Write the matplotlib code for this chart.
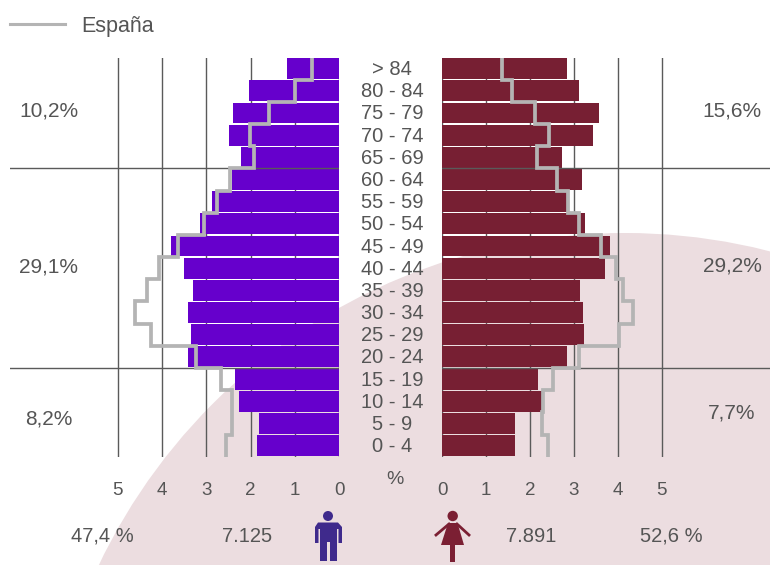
import matplotlib
matplotlib.use('Agg')
from matplotlib import pyplot as plt
from matplotlib.lines import Line2D
from matplotlib.patches import Circle, Polygon, Rectangle

plt.rcParams['font.family'] = ['Liberation Sans', 'DejaVu Sans']

# datos
age_groups = ['> 84', '80 - 84', '75 - 79', '70 - 74', '65 - 69', '60 - 64',
              '55 - 59', '50 - 54', '45 - 49', '40 - 44', '35 - 39', '30 - 34',
              '25 - 29', '20 - 24', '15 - 19', '10 - 14', '5 - 9', '0 - 4']
men = [1.17, 2.04, 2.40, 2.50, 2.23, 2.43, 2.87, 3.14, 3.79,
       3.51, 3.31, 3.41, 3.34, 3.41, 2.35, 2.26, 1.82, 1.85]
women = [2.85, 3.12, 3.58, 3.43, 2.73, 3.19, 2.88, 3.26, 3.82,
         3.71, 3.14, 3.22, 3.24, 2.85, 2.19, 2.27, 1.66, 1.66]
spain_men = [0.62, 1.00, 1.58, 2.02, 1.93, 2.46, 2.76, 3.06, 3.63,
             4.06, 4.33, 4.61, 4.26, 3.23, 2.66, 2.43, 2.43, 2.56]
spain_women = [1.37, 1.60, 2.11, 2.43, 2.17, 2.63, 2.87, 3.11, 3.62,
               3.96, 4.12, 4.34, 4.04, 3.12, 2.52, 2.30, 2.28, 2.42]
pct_ticks = [0, 1, 2, 3, 4, 5]
group_breaks = [5, 14]
left_shares = ['10,2%', '29,1%', '8,2%']
right_shares = ['15,6%', '29,2%', '7,7%']
men_total = ['47,4 %', '7.125']
women_total = ['7.891', '52,6 %']

W, H = 770, 565
TEXT = '#555555'
GRID = '#5a5a5a'
LINE = '#b4b4b4'
MEN = '#6600cc'
WOMEN = '#771f33'
PINK = '#ecdde0'


def pixel_axes(x0, y0, x1, y1, zorder):
    ax = fig.add_axes([x0 / W, 1 - y1 / H, (x1 - x0) / W, (y1 - y0) / H], zorder=zorder)
    ax.patch.set_visible(False)
    return ax


def pyramid(ax, values, spain, color, xlim):
    rows = range(len(values))
    ax.barh([r + 0.5 for r in rows], values, height=0.94, color=color, zorder=2)
    ax.stairs(spain, range(len(spain) + 1), orientation='horizontal', baseline=None,
              color=LINE, lw=2.7, zorder=4)
    for b in group_breaks:
        ax.axhline(b, color=GRID, lw=1, zorder=3)
    ax.set_xlim(*xlim)
    ax.set_ylim(len(values), 0)
    ax.set_xticks(pct_ticks)
    ax.set_yticks([])
    ax.grid(axis='x', color=GRID, lw=1, zorder=1)
    ax.set_axisbelow(True)
    ax.tick_params(axis='x', length=0, pad=18.5, labelsize=13.5, labelcolor=TEXT)
    for s in ax.spines.values():
        s.set_visible(False)


fig = plt.figure(figsize=(W / 100, H / 100), dpi=100, facecolor='white')

# fondo: circulo rosa
bg = pixel_axes(0, 0, W, H, -1)
bg.set_xlim(0, W)
bg.set_ylim(H, 0)
bg.axis('off')
bg.add_patch(Circle((625, 816), 583, color=PINK, lw=0))

ax_men = pixel_axes(10, 57.5, 339.3, 456.7, 1)
pyramid(ax_men, men, spain_men, MEN, (329.3 / 44.3, 0))
ax_women = pixel_axes(442, 57.5, 770, 456.7, 1)
pyramid(ax_women, women, spain_women, WOMEN, (0, 328 / 43.9))

# textos e iconos
top = pixel_axes(0, 0, W, H, 2)
top.set_xlim(0, W)
top.set_ylim(H, 0)
top.axis('off')

for i, label in enumerate(age_groups):
    top.text(392, 58.5 + (i + 0.5) * 399.2 / 18, label, ha='center', va='center',
             fontsize=14.5, color=TEXT)
for label, y in zip(left_shares, [111, 267, 419]):
    top.text(49, y, label, ha='center', va='center', fontsize=15, color=TEXT)
for label, y in zip(right_shares, [111, 266, 413]):
    top.text(732, y, label, ha='center', va='center', fontsize=15, color=TEXT)
top.text(395, 479, '%', ha='center', va='center', fontsize=14, color=TEXT)
for label, x in zip(men_total + women_total, [102, 247, 531, 671]):
    top.text(x, 536, label, ha='center', va='center', fontsize=14.5, color=TEXT)

# hombre
icon_m = '#3f2a8c'
top.add_patch(Circle((328, 516), 5, color=icon_m, lw=0))
top.add_patch(Polygon([(315, 527), (318, 522.5), (338, 522.5), (342, 527), (342, 543), (338.5, 543),
                       (338.5, 529), (337, 529), (337, 561), (330, 561), (330, 542), (327, 542),
                       (327, 561), (320, 561), (320, 529), (318.5, 529), (318.5, 543), (315, 543)],
                      color=icon_m, lw=0))
# mujer
icon_w = '#7b1f33'
top.add_patch(Circle((452.7, 516), 5.2, color=icon_w, lw=0))
top.add_patch(Polygon([(448, 523), (457.5, 523), (464, 545), (441, 545)], color=icon_w, lw=0))
top.add_patch(Rectangle((450.2, 544), 5, 17.5, color=icon_w, lw=0))
top.plot([449, 436], [524, 535], color=icon_w, lw=2)
top.plot([457, 469], [524, 535], color=icon_w, lw=2)

fig.legend(handles=[Line2D([], [], color=LINE, lw=2.2, label='España')], loc='upper left',
           bbox_to_anchor=(10 / W, 1 - 16 / H), frameon=False, fontsize=15.5, labelcolor=TEXT,
           handlelength=2.55, handletextpad=0.75, borderaxespad=0, borderpad=0)

fig.savefig('out.png', dpi=100)
